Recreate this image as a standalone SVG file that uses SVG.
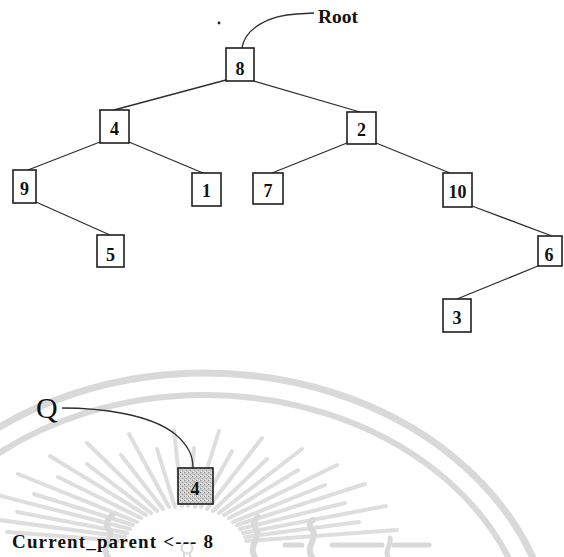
<svg xmlns="http://www.w3.org/2000/svg" width="564" height="557" viewBox="0 0 564 557">
  <defs>
    <pattern id="stipple" width="4" height="4" patternUnits="userSpaceOnUse">
      <rect width="4" height="4" fill="#cdcdcd"/>
      <rect x="0" y="0" width="1" height="1" fill="#8a8a8a"/>
      <rect x="2" y="2" width="1" height="1" fill="#9a9a9a"/>
      <rect x="3" y="0" width="1" height="1" fill="#eeeeee"/>
      <rect x="1" y="3" width="1" height="1" fill="#f0f0f0"/>
    </pattern>
  </defs>
  <style>
    .mark { fill: none; stroke: #d9d9d9; stroke-linecap: round; }
    .ray { stroke: #dedede; stroke-width: 4; stroke-linecap: round; }
    .edge { fill: none; stroke: #2e2e2e; stroke-width: 1.3; }
    .box { fill: #ffffff; stroke: #1e1e1e; stroke-width: 1.6; }
    .num { font-family: "Liberation Serif", "Times New Roman", serif; font-weight: bold; font-size: 18px; fill: #111; text-anchor: middle; }
    .lbl { font-family: "Liberation Serif", "Times New Roman", serif; fill: #111; }
  </style>
  <rect width="564" height="557" fill="#ffffff"/>

  <!-- faint seal in the background -->
  <g id="seal">
    <ellipse class="mark" cx="205" cy="657" rx="350" ry="284" stroke-width="7"/>
    <ellipse class="mark" cx="205" cy="657" rx="328" ry="262" stroke-width="6"/>
    <g>
      <line class="ray" x1="246" y1="541" x2="397" y2="530"/>
      <line class="ray" x1="245" y1="537" x2="359" y2="522"/>
      <line class="ray" x1="243" y1="533" x2="386" y2="506"/>
      <line class="ray" x1="240" y1="529" x2="345" y2="503"/>
      <line class="ray" x1="237" y1="525" x2="365" y2="484"/>
      <line class="ray" x1="233" y1="522" x2="325" y2="485"/>
      <line class="ray" x1="229" y1="518" x2="337" y2="465"/>
      <line class="ray" x1="224" y1="515" x2="298" y2="470"/>
      <line class="ray" x1="219" y1="513" x2="302" y2="449"/>
      <line class="ray" x1="213" y1="511" x2="267" y2="459"/>
      <line class="ray" x1="207" y1="509" x2="262" y2="438"/>
      <line class="ray" x1="201" y1="507" x2="232" y2="451"/>
      <line class="ray" x1="195" y1="507" x2="219" y2="431"/>
      <line class="ray" x1="188" y1="506" x2="194" y2="448"/>
      <line class="ray" x1="182" y1="506" x2="174" y2="430"/>
      <line class="ray" x1="175" y1="507" x2="157" y2="449"/>
      <line class="ray" x1="169" y1="507" x2="129" y2="434"/>
      <line class="ray" x1="163" y1="509" x2="121" y2="455"/>
      <line class="ray" x1="157" y1="511" x2="87" y2="443"/>
      <line class="ray" x1="151" y1="513" x2="87" y2="464"/>
      <line class="ray" x1="146" y1="515" x2="50" y2="456"/>
      <line class="ray" x1="141" y1="518" x2="58" y2="477"/>
      <line class="ray" x1="137" y1="522" x2="18" y2="474"/>
      <line class="ray" x1="133" y1="525" x2="34" y2="494"/>
      <line class="ray" x1="130" y1="529" x2="-7" y2="494"/>
      <line class="ray" x1="127" y1="533" x2="17" y2="512"/>
      <line class="ray" x1="125" y1="537" x2="-23" y2="517"/>
      <line class="ray" x1="124" y1="541" x2="7" y2="532"/>
    </g>
    <circle cx="187" cy="548" r="5.5" class="mark" stroke-width="2"/>
    <path class="mark" stroke-width="2" d="M184,553 L184,557 M190,553 L190,557"/>
    <path class="mark" stroke-width="6" d="M108,557 C100,545 116,538 108,528 C104,522 110,518 112,515"/>
    <path class="mark" stroke-width="6" d="M255,557 C247,545 263,537 255,527 C252,522 256,519 258,517"/>
    <path class="mark" stroke-width="6" d="M312,557 C304,546 320,538 311,528 C308,524 311,521 313,520"/>
    <path class="mark" stroke-width="5" d="M388,557 C384,550 392,545 390,538"/>
    <path class="mark" stroke-width="5" d="M285,545 L302,545 M332,545 L382,545 M394,545 L429,545"/>
  </g>

  <!-- tree edges and pointer curves -->
  <g id="connectors">
    <line class="edge" x1="226" y1="80" x2="114" y2="110"/>
    <line class="edge" x1="254" y1="81" x2="360" y2="112"/>
    <line class="edge" x1="100" y1="142" x2="28" y2="170"/>
    <line class="edge" x1="129" y1="142" x2="203" y2="173"/>
    <line class="edge" x1="36" y1="202" x2="110" y2="235"/>
    <line class="edge" x1="347" y1="143" x2="272" y2="173"/>
    <line class="edge" x1="376" y1="143" x2="450" y2="173"/>
    <line class="edge" x1="472" y1="206" x2="552" y2="236"/>
    <line class="edge" x1="538" y1="266" x2="457" y2="299"/>
    <path class="edge" d="M314,13 L297,14 C270,15 245,28 242,48"/>
    <path class="edge" stroke-width="1.5" d="M62,408 C100,408 150,414 175,434 C189,446 193,456 193,468"/>
  </g>

  <g id="n8"><rect class="box" x="226" y="48" width="28" height="33"/><text class="num" x="240" y="75">8</text></g>
  <g id="n4"><rect class="box" x="100" y="110" width="29" height="33"/><text class="num" x="114.5" y="135">4</text></g>
  <g id="n2"><rect class="box" x="347" y="112" width="29" height="32"/><text class="num" x="361.5" y="136">2</text></g>
  <g id="n9"><rect class="box" x="13" y="170" width="23" height="33"/><text class="num" x="24.5" y="195">9</text></g>
  <g id="n1"><rect class="box" x="192" y="173" width="29" height="33"/><text class="num" x="206.5" y="197">1</text></g>
  <g id="n7"><rect class="box" x="253" y="173" width="30" height="31"/><text class="num" x="268" y="197">7</text></g>
  <g id="n10"><rect class="box" x="443" y="173" width="29" height="34"/><text class="num" x="457.5" y="198">10</text></g>
  <g id="n5"><rect class="box" x="97" y="235" width="27" height="32"/><text class="num" x="110.5" y="261">5</text></g>
  <g id="n6"><rect class="box" x="538" y="236" width="24" height="30"/><text class="num" x="549" y="261">6</text></g>
  <g id="n3"><rect class="box" x="443" y="299" width="28" height="33"/><text class="num" x="457" y="324">3</text></g>
  <g id="q4"><rect x="178" y="468" width="35" height="36" fill="url(#stipple)" stroke="#1e1e1e" stroke-width="1.6"/><text class="num" x="195" y="495">4</text></g>

  <circle cx="219" cy="23" r="1.4" fill="#222"/>
  <text class="lbl" x="318" y="23" font-size="19" font-weight="bold" textLength="40" lengthAdjust="spacingAndGlyphs">Root</text>
  <text class="lbl" x="36" y="418" font-size="30">Q</text>
  <text class="lbl" x="12" y="548" font-size="19" font-weight="bold" textLength="201" lengthAdjust="spacing">Current_parent &lt;--- 8</text>
</svg>
